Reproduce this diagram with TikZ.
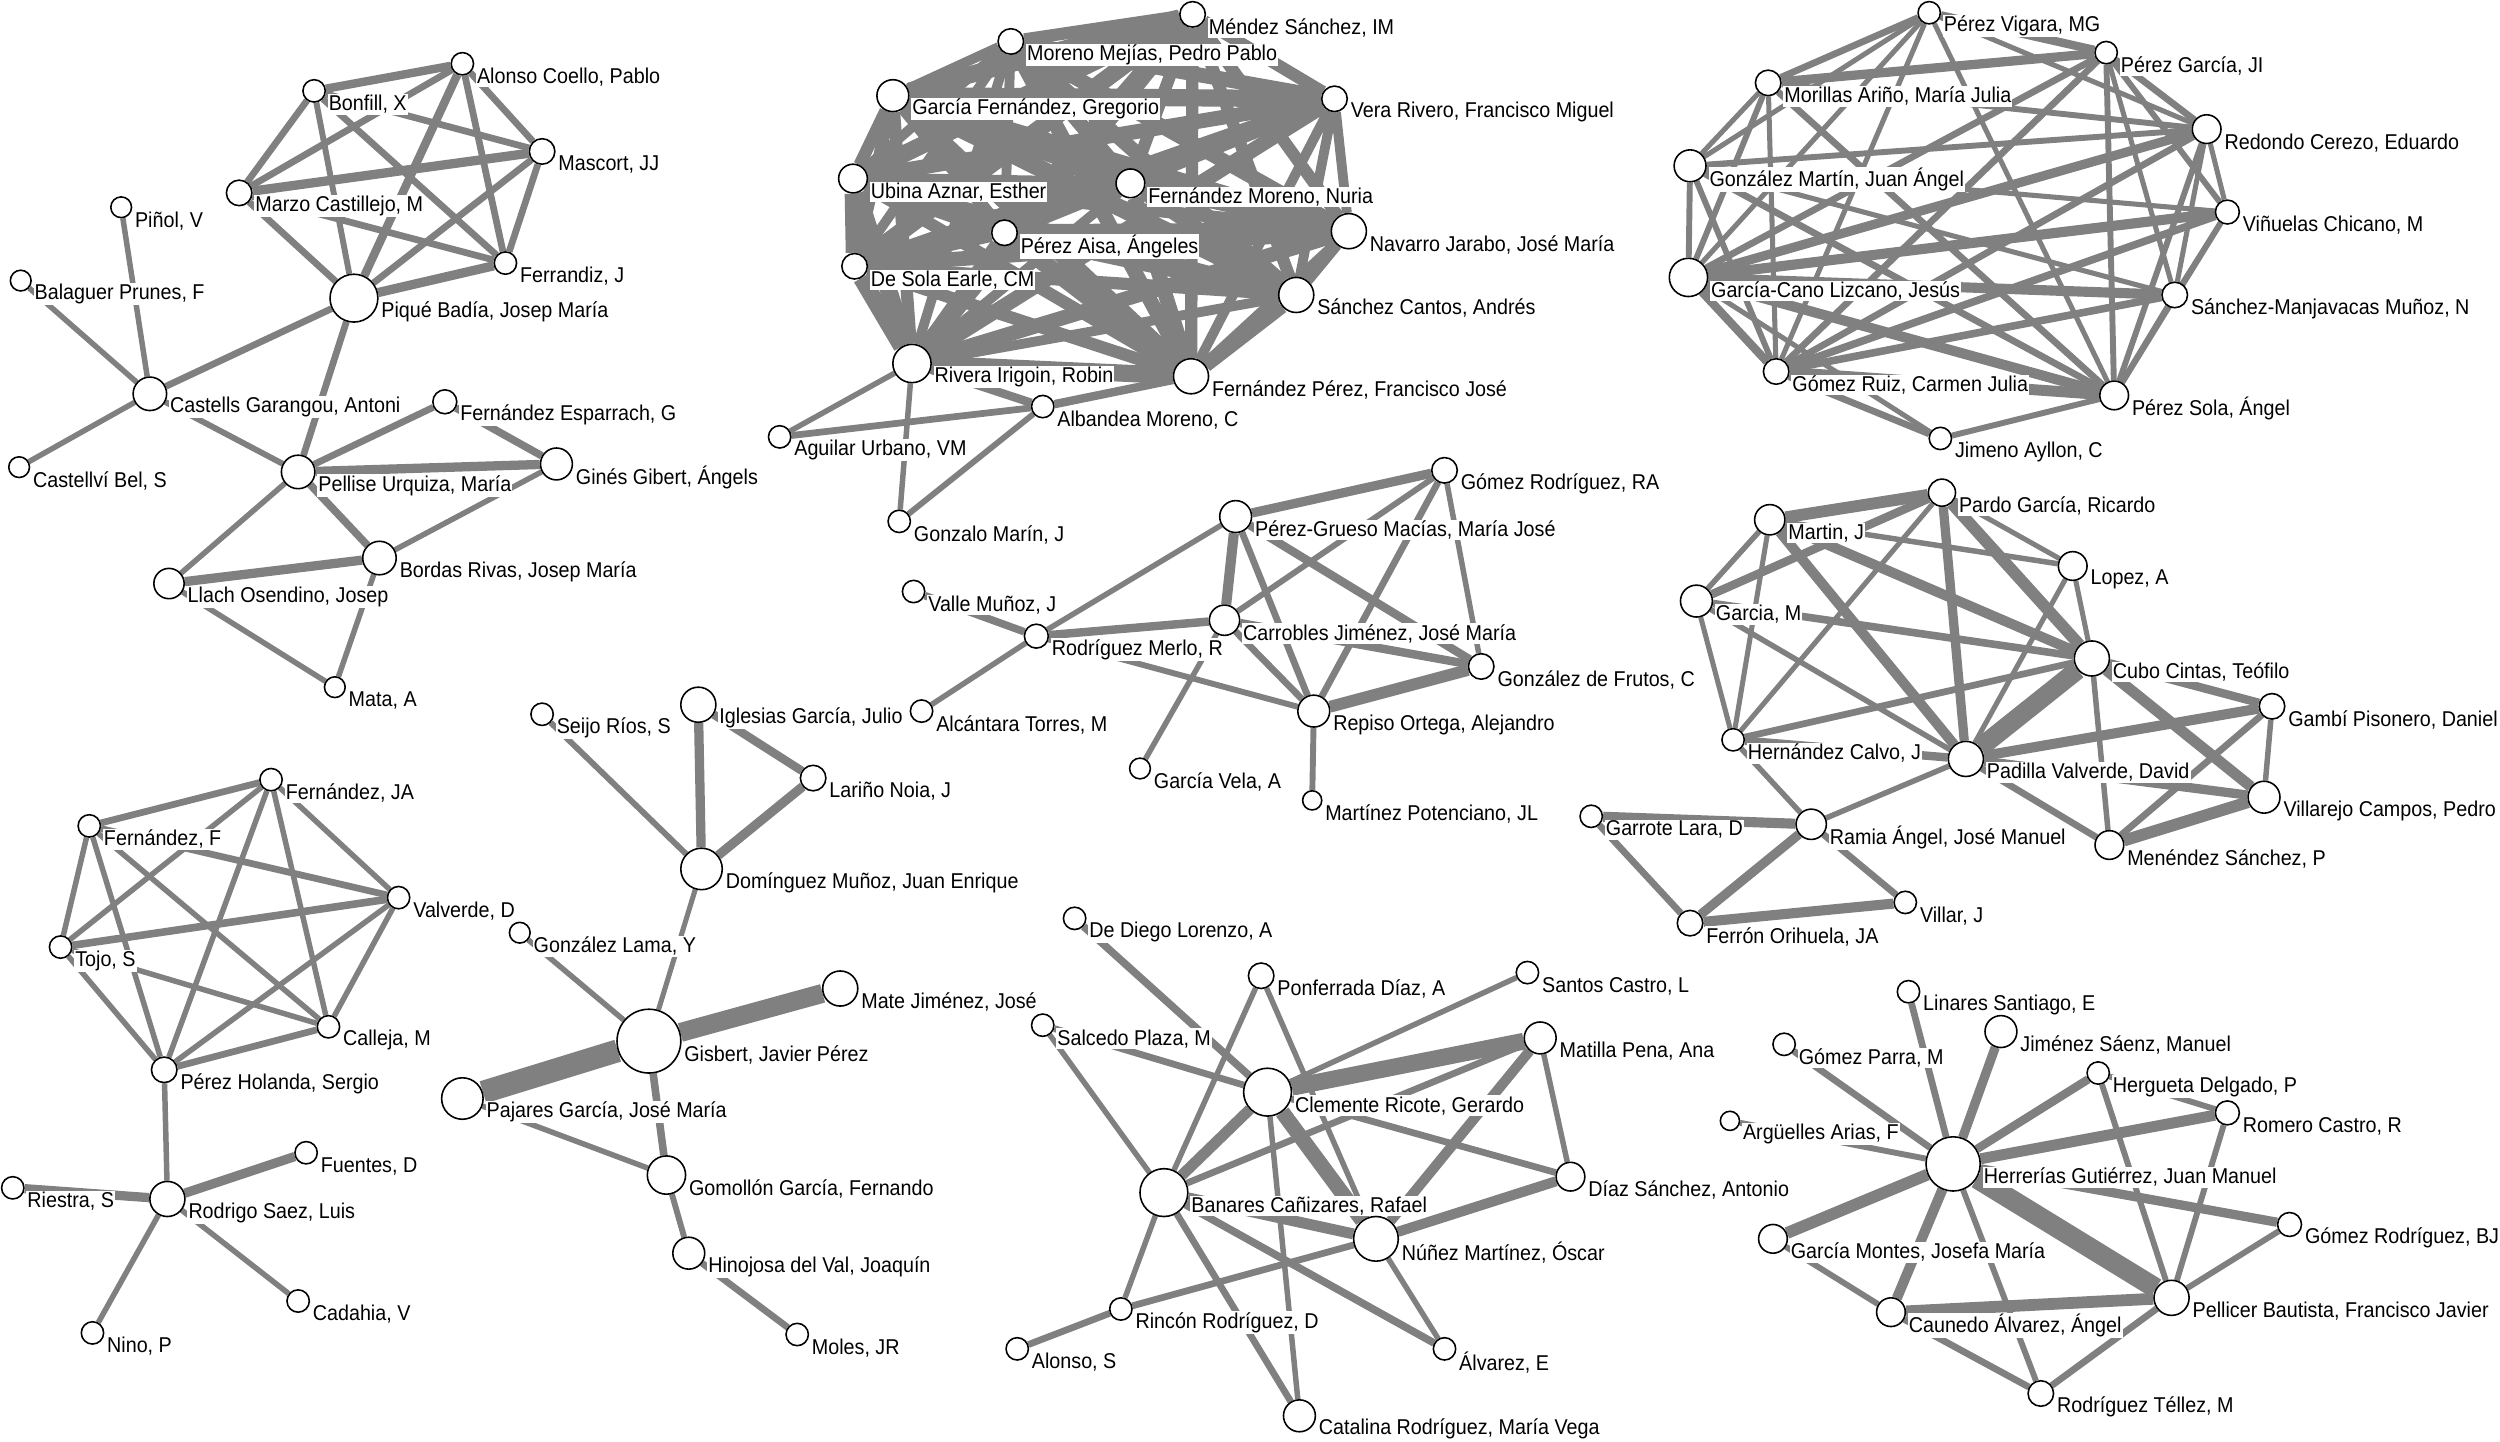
\documentclass[tikz,border=0pt]{standalone}
\usepackage{fontspec}
\setmainfont[FakeStretch=0.92]{Liberation Sans}
\usetikzlibrary{backgrounds}

\definecolor{linkgray}{RGB}{128,128,128}

\tikzset{
  au/.style={circle, draw=black, fill=white, line width=0.45pt, inner sep=0pt},
  lab/.style={font=\fontsize{6.1}{6.5}\selectfont, fill=white, inner sep=0.3pt,
    anchor=west, xshift=0.1mm, yshift=-1.35mm},
  link/.style={draw=linkgray}
}

% one author: name, x, y, radius, printed name
\newcommand{\coauthor}[5]{%
  \node[au, minimum size=#4*0.319mm, label={[lab]east:#5}] (#1) at (#2,#3) {};}

\begin{document}
\begin{tikzpicture}[x=0.15944mm, y=-0.15944mm]
    \useasboundingbox (0,0) rectangle (1568,904);

    % top left group
    \coauthor{alonso}{290}{40}{7}{Alonso Coello, Pablo}
    \coauthor{bonfill}{197}{57}{7}{Bonfill, X}
    \coauthor{mascort}{340}{95}{8}{Mascort, JJ}
    \coauthor{marzo}{150}{121}{8}{Marzo Castillejo, M}
    \coauthor{pinol}{76}{130}{6.5}{Piñol, V}
    \coauthor{ferrandiz}{317}{165}{7}{Ferrandiz, J}
    \coauthor{balaguer}{13}{176}{6.5}{Balaguer Prunes, F}
    \coauthor{pique}{222}{187}{15}{Piqué Badía, Josep María}
    \coauthor{castells}{94}{247}{10.5}{Castells Garangou, Antoni}
    \coauthor{fesparrach}{279}{252}{7.5}{Fernández Esparrach, G}
    \coauthor{castellvi}{12}{293}{6.5}{Castellví Bel, S}
    \coauthor{gines}{349}{291}{10}{Ginés Gibert, Ángels}
    \coauthor{pellise}{187}{296}{10.5}{Pellise Urquiza, María}
    \coauthor{bordas}{238}{350}{10.5}{Bordas Rivas, Josep María}
    \coauthor{llach}{106}{366}{9.5}{Llach Osendino, Josep}
    \coauthor{mata}{210}{431}{6.5}{Mata, A}

    % top middle group
    \coauthor{mendez}{748}{9}{8}{Méndez Sánchez, IM}
    \coauthor{moreno}{634}{26}{8}{Moreno Mejías, Pedro Pablo}
    \coauthor{garciaf}{560}{60}{10}{García Fernández, Gregorio}
    \coauthor{vera}{837}{62}{8}{Vera Rivero, Francisco Miguel}
    \coauthor{ubina}{535}{112}{9}{Ubina Aznar, Esther}
    \coauthor{fmoreno}{709}{115}{9}{Fernández Moreno, Nuria}
    \coauthor{paisa}{630}{146}{8}{Pérez Aisa, Ángeles}
    \coauthor{navarro}{846}{145}{11}{Navarro Jarabo, José María}
    \coauthor{desola}{536}{167}{8}{De Sola Earle, CM}
    \coauthor{sanchez}{813}{185}{11}{Sánchez Cantos, Andrés}
    \coauthor{rivera}{572}{228}{12}{Rivera Irigoin, Robin}
    \coauthor{fperez}{747}{236}{11}{Fernández Pérez, Francisco José}
    \coauthor{albandea}{654}{255}{7}{Albandea Moreno, C}
    \coauthor{aguilar}{489}{274}{7}{Aguilar Urbano, VM}
    \coauthor{gonzalo}{564}{327}{7}{Gonzalo Marín, J}

    % top right group
    \coauthor{pvigara}{1210}{8}{7}{Pérez Vigara, MG}
    \coauthor{pgarcia}{1321}{33}{7}{Pérez García, JI}
    \coauthor{morillas}{1109}{52}{8}{Morillas Ariño, María Julia}
    \coauthor{redondo}{1384}{81}{9}{Redondo Cerezo, Eduardo}
    \coauthor{gmartin}{1060}{104}{10}{González Martín, Juan Ángel}
    \coauthor{vinuelas}{1397}{133}{7.5}{Viñuelas Chicano, M}
    \coauthor{gcano}{1059}{174}{12}{García-Cano Lizcano, Jesús}
    \coauthor{smanj}{1364}{185}{8}{Sánchez-Manjavacas Muñoz, N}
    \coauthor{gruiz}{1114}{233}{8}{Gómez Ruiz, Carmen Julia}
    \coauthor{psola}{1326}{248}{9}{Pérez Sola, Ángel}
    \coauthor{jimeno}{1217}{275}{7}{Jimeno Ayllon, C}

    % centre group
    \coauthor{gomezra}{906}{295}{8}{Gómez Rodríguez, RA}
    \coauthor{pgrueso}{775}{324}{10}{Pérez-Grueso Macías, María José}
    \coauthor{valle}{573}{371}{7}{Valle Muñoz, J}
    \coauthor{carrobles}{768}{389}{9.5}{Carrobles Jiménez, José María}
    \coauthor{rmerlo}{650}{399}{7.5}{Rodríguez Merlo, R}
    \coauthor{gfrutos}{929}{418}{8}{González de Frutos, C}
    \coauthor{repiso}{824}{446}{10}{Repiso Ortega, Alejandro}
    \coauthor{alcantara}{578}{446}{7}{Alcántara Torres, M}
    \coauthor{gvela}{715}{482}{6.5}{García Vela, A}
    \coauthor{mpot}{823}{502}{6}{Martínez Potenciano, JL}

    % right middle group
    \coauthor{pardo}{1218}{309}{8.5}{Pardo García, Ricardo}
    \coauthor{martin}{1110}{326}{9.5}{Martin, J}
    \coauthor{lopez}{1300}{355}{9}{Lopez, A}
    \coauthor{garciam}{1064}{377}{10}{Garcia, M}
    \coauthor{cubo}{1312}{413}{11}{Cubo Cintas, Teófilo}
    \coauthor{gambi}{1425}{443}{8}{Gambí Pisonero, Daniel}
    \coauthor{hernandez}{1087}{464}{7}{Hernández Calvo, J}
    \coauthor{padilla}{1233}{476}{11}{Padilla Valverde, David}
    \coauthor{villarejo}{1420}{500}{10}{Villarejo Campos, Pedro}
    \coauthor{garrote}{998}{512}{7}{Garrote Lara, D}
    \coauthor{ramia}{1136}{517}{9.5}{Ramia Ángel, José Manuel}
    \coauthor{menendez}{1323}{530}{9}{Menéndez Sánchez, P}
    \coauthor{villar}{1195}{566}{7}{Villar, J}
    \coauthor{ferron}{1060}{579}{8}{Ferrón Orihuela, JA}

    % bottom left groups
    \coauthor{fja}{170}{489}{7}{Fernández, JA}
    \coauthor{ff}{56}{518}{7}{Fernández, F}
    \coauthor{valverde}{250}{563}{7}{Valverde, D}
    \coauthor{tojo}{38}{594}{7}{Tojo, S}
    \coauthor{calleja}{206}{644}{7}{Calleja, M}
    \coauthor{pholanda}{103}{671}{8}{Pérez Holanda, Sergio}
    \coauthor{fuentes}{192}{723}{7}{Fuentes, D}
    \coauthor{riestra}{8}{745}{7}{Riestra, S}
    \coauthor{rodrigo}{105}{752}{11}{Rodrigo Saez, Luis}
    \coauthor{cadahia}{187}{816}{7}{Cadahia, V}
    \coauthor{nino}{58}{836}{7}{Nino, P}
    \coauthor{seijo}{340}{448}{7}{Seijo Ríos, S}
    \coauthor{iglesias}{438}{442}{11}{Iglesias García, Julio}
    \coauthor{larino}{510}{488}{8}{Lariño Noia, J}
    \coauthor{dominguez}{440}{545}{13}{Domínguez Muñoz, Juan Enrique}
    \coauthor{glama}{326}{585}{6.5}{González Lama, Y}
    \coauthor{mate}{527}{620}{11}{Mate Jiménez, José}
    \coauthor{gisbert}{407}{653}{20}{Gisbert, Javier Pérez}
    \coauthor{pajares}{290}{689}{13}{Pajares García, José María}
    \coauthor{gomollon}{418}{737}{12}{Gomollón García, Fernando}
    \coauthor{hinojosa}{432}{786}{10}{Hinojosa del Val, Joaquín}
    \coauthor{moles}{500}{837}{7}{Moles, JR}

    % bottom middle group
    \coauthor{dediego}{674}{576}{7}{De Diego Lorenzo, A}
    \coauthor{ponferrada}{791}{612}{8}{Ponferrada Díaz, A}
    \coauthor{santos}{958}{610}{7}{Santos Castro, L}
    \coauthor{salcedo}{654}{643}{7}{Salcedo Plaza, M}
    \coauthor{matilla}{966}{651}{10}{Matilla Pena, Ana}
    \coauthor{clemente}{795}{685}{15}{Clemente Ricote, Gerardo}
    \coauthor{diaz}{985}{738}{9}{Díaz Sánchez, Antonio}
    \coauthor{banares}{730}{748}{15}{Banares Cañizares, Rafael}
    \coauthor{nunez}{863}{777}{14}{Núñez Martínez, Óscar}
    \coauthor{rincon}{703}{821}{7}{Rincón Rodríguez, D}
    \coauthor{alonsos}{638}{846}{7}{Alonso, S}
    \coauthor{alvarez}{906}{846}{7}{Álvarez, E}
    \coauthor{catalina}{815}{888}{10}{Catalina Rodríguez, María Vega}

    % bottom right group
    \coauthor{linares}{1197}{622}{7}{Linares Santiago, E}
    \coauthor{jimenez}{1255}{647}{10}{Jiménez Sáenz, Manuel}
    \coauthor{gparra}{1119}{655}{7}{Gómez Parra, M}
    \coauthor{hergueta}{1316}{673}{7}{Hergueta Delgado, P}
    \coauthor{romero}{1397}{698}{7.5}{Romero Castro, R}
    \coauthor{arguelles}{1085}{703}{6}{Argüelles Arias, F}
    \coauthor{herrerias}{1225}{730}{17}{Herrerías Gutiérrez, Juan Manuel}
    \coauthor{gomezbj}{1436}{768}{7.5}{Gómez Rodríguez, BJ}
    \coauthor{gmontes}{1112}{777}{9}{García Montes, Josefa María}
    \coauthor{pellicer}{1362}{814}{11}{Pellicer Bautista, Francisco Javier}
    \coauthor{caunedo}{1186}{823}{9}{Caunedo Álvarez, Ángel}
    \coauthor{rtellez}{1280}{874}{8}{Rodríguez Téllez, M}

    \begin{scope}[on background layer]
        % dense group: every pair linked
        \foreach \a [count=\i] in {mendez,moreno,garciaf,vera,ubina,fmoreno,paisa,navarro,desola,sanchez,rivera,fperez}
            \foreach \b [count=\j] in {mendez,moreno,garciaf,vera,ubina,fmoreno,paisa,navarro,desola,sanchez,rivera,fperez}
                {\ifnum\j>\i
                    \pgfmathsetmacro\w{2.8+0.7*mod(\i+2*\j,4)}
                    \draw[link, line width=\w pt] (\a) -- (\b);
                \fi}

        % all other links, with widths in pt
        \foreach \a/\b/\w in {
            alonso/bonfill/2.0, alonso/mascort/1.6, alonso/marzo/1.6, alonso/ferrandiz/1.6, alonso/pique/2.0,
            bonfill/mascort/1.6, bonfill/marzo/1.6, bonfill/ferrandiz/1.6, bonfill/pique/1.4,
            mascort/marzo/2.2, mascort/ferrandiz/1.6, mascort/pique/1.6, marzo/ferrandiz/1.6, marzo/pique/1.6,
            ferrandiz/pique/2.2, pique/castells/1.6, pique/pellise/1.6,
            castells/pinol/1.3, castells/balaguer/1.3, castells/castellvi/1.3, castells/pellise/1.4,
            pellise/fesparrach/1.6, pellise/gines/2.2, pellise/bordas/1.8, pellise/llach/1.3,
            fesparrach/gines/1.8, gines/bordas/1.3, bordas/llach/2.2, bordas/mata/1.3, llach/mata/1.3,
            albandea/rivera/2.0, albandea/fperez/2.0, albandea/aguilar/1.6, albandea/gonzalo/1.4,
            rivera/aguilar/1.3, rivera/gonzalo/1.3,
            pvigara/pgarcia/2.0, pvigara/morillas/1.6, pvigara/gmartin/1.2, pvigara/gcano/1.2,
            pvigara/gruiz/1.2, pvigara/psola/1.2, pvigara/redondo/1.2,
            pgarcia/morillas/2.2, pgarcia/gcano/1.6, pgarcia/gruiz/1.6, pgarcia/psola/1.4,
            pgarcia/redondo/1.6, pgarcia/vinuelas/1.4, pgarcia/smanj/1.2,
            morillas/gmartin/1.2, morillas/gcano/1.4, morillas/gruiz/1.2, morillas/psola/1.6, morillas/redondo/1.4,
            redondo/gcano/2.2, redondo/gruiz/1.6, redondo/psola/1.4, redondo/vinuelas/1.2,
            redondo/smanj/1.2, redondo/gmartin/1.4,
            gmartin/gcano/1.4, gmartin/gruiz/1.4, gmartin/psola/1.6, gmartin/vinuelas/1.2, gmartin/smanj/1.2,
            vinuelas/gcano/2.4, vinuelas/gruiz/1.8, vinuelas/psola/1.4, vinuelas/smanj/1.2,
            gcano/smanj/2.4, gcano/gruiz/2.0, gcano/psola/2.4, gcano/jimeno/1.2,
            smanj/gruiz/1.8, smanj/psola/1.4, gruiz/psola/2.6, gruiz/jimeno/1.6, psola/jimeno/1.4,
            rmerlo/valle/1.8, rmerlo/alcantara/1.3, rmerlo/pgrueso/1.3, rmerlo/carrobles/2.0, rmerlo/repiso/1.4,
            carrobles/gvela/1.3, pgrueso/gomezra/2.2, pgrueso/carrobles/2.4, pgrueso/repiso/1.6,
            pgrueso/gfrutos/2.0, carrobles/gomezra/1.4, carrobles/repiso/1.6, carrobles/gfrutos/2.0,
            gomezra/repiso/1.6, gomezra/gfrutos/1.3, repiso/gfrutos/2.8, repiso/mpot/1.4,
            martin/pardo/2.8, martin/garciam/1.3, martin/hernandez/1.2, martin/lopez/1.3,
            martin/padilla/2.4, martin/cubo/2.4, pardo/garciam/2.0, pardo/hernandez/1.2,
            pardo/padilla/2.2, pardo/cubo/2.8, pardo/lopez/1.2, garciam/cubo/1.8, garciam/hernandez/1.2,
            garciam/padilla/1.3, lopez/cubo/1.2, lopez/padilla/1.2, cubo/hernandez/1.6, cubo/padilla/4.5,
            cubo/gambi/2.0, cubo/villarejo/2.6, cubo/menendez/1.3, padilla/gambi/2.4, padilla/hernandez/2.0,
            padilla/ramia/1.3, padilla/menendez/1.6, padilla/villarejo/2.2, gambi/villarejo/1.3,
            gambi/menendez/1.6, villarejo/menendez/2.8, hernandez/ramia/1.3, garrote/ramia/2.4,
            garrote/ferron/1.6, ramia/ferron/2.2, ramia/villar/1.6, ferron/villar/2.4,
            fja/ff/1.6, fja/valverde/1.3, fja/tojo/1.3, fja/calleja/1.3, fja/pholanda/1.3,
            ff/tojo/1.3, ff/valverde/1.6, ff/calleja/1.3, ff/pholanda/1.3,
            valverde/tojo/1.8, valverde/calleja/1.3, valverde/pholanda/1.3,
            tojo/calleja/1.3, tojo/pholanda/1.3, calleja/pholanda/1.6,
            pholanda/rodrigo/1.3, rodrigo/fuentes/2.2, rodrigo/riestra/2.2, rodrigo/cadahia/1.3, rodrigo/nino/1.3,
            seijo/dominguez/1.4, iglesias/dominguez/2.2, iglesias/larino/2.0, larino/dominguez/2.2,
            dominguez/gisbert/1.2, glama/gisbert/1.3, gisbert/mate/4.5, gisbert/pajares/5.4,
            gisbert/gomollon/1.8, pajares/gomollon/1.3, gomollon/hinojosa/1.4, hinojosa/moles/1.6,
            dediego/clemente/1.8, salcedo/clemente/1.6, salcedo/banares/1.3, ponferrada/banares/1.3,
            ponferrada/nunez/1.3, santos/clemente/1.3, matilla/clemente/4.0, matilla/banares/1.6,
            matilla/nunez/2.4, matilla/diaz/1.3, clemente/banares/2.6, clemente/nunez/3.6,
            clemente/catalina/1.3, clemente/diaz/1.6, banares/nunez/2.6, banares/rincon/1.3,
            banares/catalina/1.6, banares/alvarez/1.8, nunez/rincon/1.6, nunez/alvarez/1.3,
            nunez/diaz/2.4, rincon/alonsos/1.6,
            herrerias/linares/1.6, herrerias/jimenez/2.2, herrerias/gparra/1.6, herrerias/hergueta/2.0,
            herrerias/romero/2.6, herrerias/arguelles/1.4, herrerias/gmontes/2.8, herrerias/caunedo/2.4,
            herrerias/pellicer/4.8, herrerias/rtellez/1.4, herrerias/gomezbj/2.2, hergueta/pellicer/1.4,
            hergueta/romero/1.4, romero/pellicer/1.4, gomezbj/pellicer/1.4, gmontes/caunedo/1.4,
            caunedo/pellicer/2.8, caunedo/rtellez/1.6, pellicer/rtellez/1.6}
            \draw[link, line width=\w*1.2pt] (\a) -- (\b);
    \end{scope}
\end{tikzpicture}
\end{document}
